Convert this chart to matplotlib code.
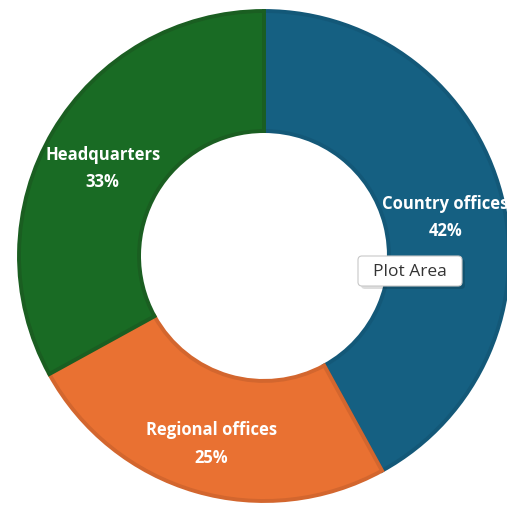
import matplotlib
matplotlib.use("Agg")
import matplotlib.pyplot as plt
import numpy as np
from matplotlib.patches import FancyBboxPatch

categories = ["Country offices", "Regional offices", "Headquarters"]
values = [42, 25, 33]
colors = ["#156082", "#E97132", "#196B24"]
edge_colors = ["#135878", "#D3662E", "#1A5E21"]

W, H = 507, 506
fig = plt.figure(figsize=(W / 100, H / 100), dpi=100)
ax = fig.add_axes([0, 0, 1, 1])

cx, cy, R = 264, H - 257, 245
hole = 0.51

wedges, _ = ax.pie(values, colors=colors, startangle=90, counterclock=False,
                   center=(cx, cy), radius=R, frame=True,
                   wedgeprops=dict(width=R * (1 - hole), linewidth=2.8))
for w, ec in zip(wedges, edge_colors):
    w.set_edgecolor(ec)

total = sum(values)
for w, cat, v in zip(wedges, categories, values):
    ang = np.deg2rad((w.theta1 + w.theta2) / 2)
    r = R * 0.765
    x = cx + r * np.cos(ang)
    y = cy + r * np.sin(ang) - 7
    ax.text(x, y, f"{cat}\n{round(100 * v / total)}%", ha="center", va="center",
            color="white", fontsize=12, fontweight="bold", family="Open Sans",
            linespacing=1.65)

# tooltip with shadow
ax.add_patch(FancyBboxPatch((361, H - 290), 104, 30, boxstyle="round,pad=0,rounding_size=4",
                            fc="#00000022", ec="none", zorder=5))
ax.add_patch(FancyBboxPatch((358, H - 287), 104, 30, boxstyle="round,pad=0,rounding_size=4",
                            fc="white", ec="#c8c8c8", lw=0.8, zorder=6))
ax.text(410, H - 272, "Plot Area", ha="center", va="center", fontsize=12.5,
        family="Open Sans", color="#333333", zorder=7)

ax.set_xlim(0, W)
ax.set_ylim(0, H)
ax.set_aspect("equal")
ax.axis("off")
fig.savefig("out.png", dpi=100)
